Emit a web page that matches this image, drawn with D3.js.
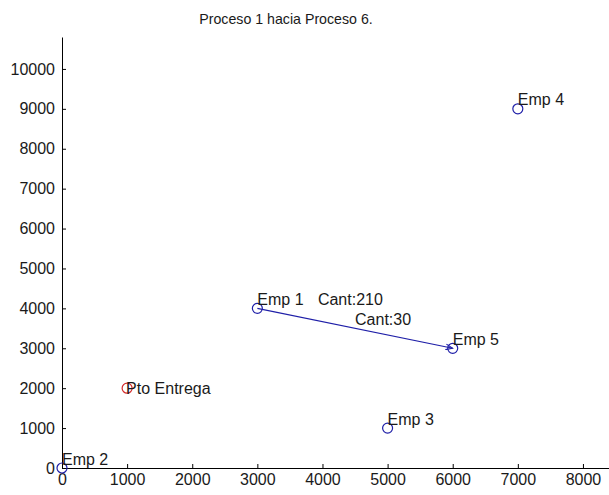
<!DOCTYPE html>
<html>
<head>
<meta charset="utf-8">
<script src="https://cdn.jsdelivr.net/npm/d3@7"></script>
<style>
  html, body { margin: 0; padding: 0; background: #fff; }
  svg { display: block; font-family: "Liberation Sans", Arial, sans-serif; }
</style>
</head>
<body>
<script>
// ---- data ----
const titleText = "Proceso 1 hacia Proceso 6.";
const pointNames = ["Emp 1", "Emp 2", "Emp 3", "Emp 4", "Emp 5"];
const pointX = [3000, 0, 5000, 7000, 6000];
const pointY = [4000, 0, 1000, 9000, 3000];
const depotName = "Pto Entrega";
const depotX = [1000];
const depotY = [2000];
const routeFrom = [0];      // index into points
const routeTo = [4];
const routeQty = ["Cant:30"];
const extraLabels = ["Cant:210"];
const extraX = [3930];
const extraY = [4000];
const xTicks = [0, 1000, 2000, 3000, 4000, 5000, 6000, 7000, 8000];
const yTicks = [0, 1000, 2000, 3000, 4000, 5000, 6000, 7000, 8000, 9000, 10000];
const xDomain = [0, 8400];
const yDomain = [0, 10800];

// ---- chart ----
const W = 609, H = 495;
const svg = d3.select("body").append("svg").attr("width", W).attr("height", H);

const x = d3.scaleLinear().domain(xDomain).range([62, 609]);
const y = d3.scaleLinear().domain(yDomain).range([468, 37]);

const blue = "#1f1fa8";
const red = "#d42a2a";
const textCol = "#1a1a1a";

svg.append("text")
  .attr("x", 286).attr("y", 24)
  .attr("text-anchor", "middle")
  .attr("font-size", 14.2)
  .attr("fill", textCol)
  .text(titleText);

const gx = svg.append("g").attr("transform", `translate(0,${y(0)})`)
  .call(d3.axisBottom(x).tickValues(xTicks).tickFormat(d3.format("d"))
    .tickSizeInner(-4).tickSizeOuter(0).tickPadding(6));
const gy = svg.append("g").attr("transform", `translate(${x(0)},0)`)
  .call(d3.axisLeft(y).tickValues(yTicks).tickFormat(d3.format("d"))
    .tickSizeInner(-4).tickSizeOuter(0).tickPadding(7));
[gx, gy].forEach(g => {
  g.selectAll("text").attr("font-size", 16).attr("fill", textCol).attr("font-family", "Liberation Sans, Arial, sans-serif");
  g.selectAll("line").attr("stroke", "#000");
  g.select(".domain").attr("stroke", "#000");
});

// arrow marker
svg.append("defs").append("marker")
  .attr("id", "arr").attr("viewBox", "0 0 10 10")
  .attr("refX", 10).attr("refY", 5)
  .attr("markerWidth", 9).attr("markerHeight", 7)
  .attr("markerUnits", "userSpaceOnUse")
  .attr("orient", "auto")
  .append("path").attr("d", "M0,1 L10,5 L0,9").attr("fill", "none")
  .attr("stroke", blue).attr("stroke-width", 1.6);

// routes
routeFrom.forEach((f, i) => {
  const t = routeTo[i];
  svg.append("line")
    .attr("x1", x(pointX[f])).attr("y1", y(pointY[f]))
    .attr("x2", x(pointX[t])).attr("y2", y(pointY[t]))
    .attr("stroke", blue).attr("stroke-width", 1.2)
    .attr("marker-end", "url(#arr)");
  const mx = (pointX[f] + pointX[t]) / 2, my = (pointY[f] + pointY[t]) / 2;
  svg.append("text")
    .attr("x", x(mx)).attr("y", y(my)).attr("dy", -9)
    .attr("dominant-baseline", "central")
    .attr("font-size", 16).attr("fill", textCol)
    .text(routeQty[i]);
});

// points
pointNames.forEach((n, i) => {
  svg.append("circle")
    .attr("cx", x(pointX[i])).attr("cy", y(pointY[i])).attr("r", 5)
    .attr("fill", "none").attr("stroke", blue).attr("stroke-width", 1.2);
  svg.append("text")
    .attr("x", x(pointX[i])).attr("y", y(pointY[i])).attr("dy", -9)
    .attr("dominant-baseline", "central")
    .attr("font-size", 16).attr("fill", textCol)
    .text(n);
});

extraLabels.forEach((t, i) => {
  svg.append("text")
    .attr("x", x(extraX[i])).attr("y", y(extraY[i])).attr("dy", -9)
    .attr("dominant-baseline", "central")
    .attr("font-size", 16).attr("fill", textCol)
    .text(t);
});

depotX.forEach((dx, i) => {
  svg.append("circle")
    .attr("cx", x(dx)).attr("cy", y(depotY[i])).attr("r", 5)
    .attr("fill", "none").attr("stroke", red).attr("stroke-width", 1.2);
  svg.append("text")
    .attr("x", x(dx) - 1).attr("y", y(depotY[i]))
    .attr("dominant-baseline", "central")
    .attr("font-size", 16).attr("fill", textCol)
    .text(depotName);
});
</script>
</body>
</html>
